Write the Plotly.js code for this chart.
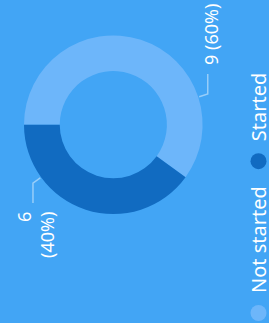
<!DOCTYPE html>
<html>
<head>
<meta charset="utf-8">
<script src="https://cdn.plot.ly/plotly-3.0.1.min.js"></script>
<style>
  html, body { margin: 0; padding: 0; width: 269px; height: 323px; overflow: hidden; background: #42A5F5; }
  #chart { position: absolute; left: 0; top: 0; width: 333px; height: 269px;
           transform-origin: 0 0; transform: translate(0px, 333px) rotate(-90deg); }
</style>
</head>
<body>
<div id="chart"></div>
<script>
// ---- data ----
const categories = ['Not started', 'Started'];
const counts = [9, 6];
const wrapLabel = [false, true];

// ---- style ----
const OFF = 10;            // hidden strip on the left of the unrotated chart
const W = 323 + OFF, H = 269;
const BG = '#42A5F5';
const sliceColors = ['#6DB6FA', '#116BC1'];
const FONT = 'Noto Sans, Open Sans, sans-serif';
const domX = [(109 + OFF) / W, (287.6 + OFF) / W], domY = [0.2468, 0.9108];

const total = counts.reduce((a, b) => a + b, 0);

const traces = [{
  type: 'pie',
  labels: categories,
  values: counts,
  sort: false,
  direction: 'clockwise',
  rotation: 0,
  hole: 0.6,
  textinfo: 'none',
  hoverinfo: 'skip',
  showlegend: false,
  marker: { colors: sliceColors, line: { width: 0 } },
  domain: { x: domX, y: domY }
}];
categories.forEach((c, i) => {
  traces.push({
    type: 'scatter', mode: 'markers', x: [null], y: [null], name: c,
    marker: { symbol: 'circle', size: 16, color: sliceColors[i] },
    showlegend: true, hoverinfo: 'skip'
  });
});

// leader lines + labels computed from slice geometry
const cx = (domX[0] + domX[1]) / 2 * W;
const cy = (1 - (domY[0] + domY[1]) / 2) * H;
const R = Math.min((domX[1] - domX[0]) * W, (domY[1] - domY[0]) * H) / 2;
const shapes = [], annotations = [];
let cum = 0;
counts.forEach((v, i) => {
  const a0 = cum / total * 360, span = v / total * 360;
  cum += v;
  const th = (a0 + 0.75 * span) * Math.PI / 180;
  const sx = Math.sin(th), sy = -Math.cos(th);
  const p0 = [cx + (R + 1) * sx, cy + (R + 1) * sy];
  const p1 = [cx + (R + 10) * sx, cy + (R + 10) * sy];
  const dir = sx >= 0 ? 1 : -1;
  const p2 = [p1[0] + dir * 20, p1[1]];
  const toP = p => [p[0] / W, 1 - p[1] / H];
  const q0 = toP(p0), q1 = toP(p1), q2 = toP(p2);
  shapes.push({
    type: 'path', xref: 'paper', yref: 'paper',
    path: `M${q0[0]},${q0[1]} L${q1[0]},${q1[1]} L${q2[0]},${q2[1]}`,
    line: { color: 'rgba(255,255,255,0.45)', width: 1.5 }
  });
  const pct = Math.round(v / total * 100);
  annotations.push({
    xref: 'paper', yref: 'paper',
    x: (p2[0] + dir * 7) / W, y: 1 - p2[1] / H, yshift: -3,
    xanchor: dir > 0 ? 'left' : 'right', yanchor: 'middle',
    align: dir > 0 ? 'left' : 'right',
    text: v + (wrapLabel[i] ? '<br>' : ' ') + '(' + pct + '%)',
    showarrow: false,
    font: { family: FONT, size: 18, color: '#FFFFFF' }
  });
});

const layout = {
  width: W, height: H,
  margin: { l: 0, r: 0, t: 0, b: 0, autoexpand: false },
  paper_bgcolor: BG, plot_bgcolor: BG,
  xaxis: { visible: false }, yaxis: { visible: false },
  showlegend: true,
  legend: {
    orientation: 'h', x: 0, xanchor: 'left', y: 1 - 258.5 / H, yanchor: 'middle',
    font: { family: FONT, size: 20, color: '#FFFFFF' },
    bgcolor: 'rgba(0,0,0,0)', itemclick: false, itemdoubleclick: false
  },
  shapes: shapes,
  annotations: annotations
};

Plotly.newPlot('chart', traces, layout, { staticPlot: true, displayModeBar: false });
</script>
</body>
</html>
